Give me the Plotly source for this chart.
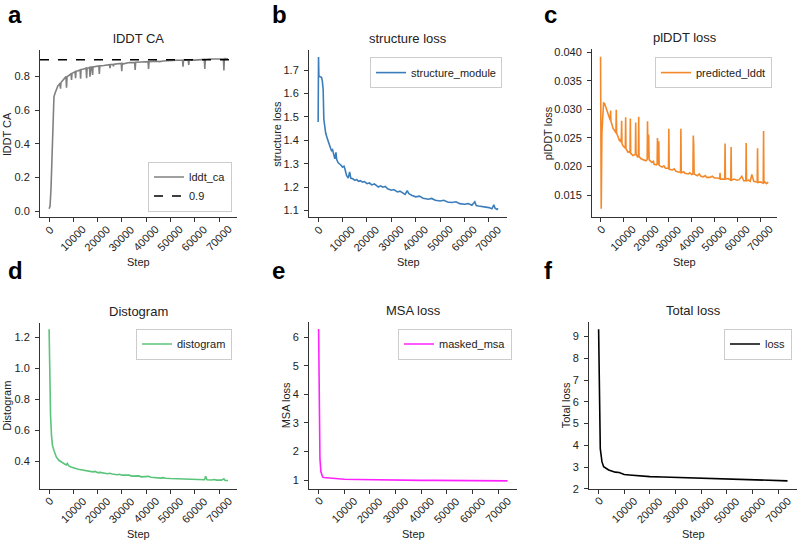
import plotly.graph_objects as go

# ---------------- DATA ----------------
X_TICKS = [0, 10000, 20000, 30000, 40000, 50000, 60000, 70000]
X_TICK_TEXT = ["0", "10000", "20000", "30000", "40000", "50000", "60000", "70000"]

lddt_steps = [0, 400, 800, 1100, 1400, 1700, 2000, 2400, 2800, 3200, 3600, 4000, 4450, 4690, 4900,
              5500, 6000, 6500, 6950, 7170, 7400, 8000, 8600, 9050, 9240, 9450, 10200, 10700, 10900,
              11100, 12000, 12500, 12780, 12970, 13160, 14200, 14800, 15250, 15450, 15650, 16400, 16650,
              16830, 17000, 17300, 17750, 17930, 18100, 19200, 20000, 20500, 20690, 20880, 22500, 24000,
              24900, 25100, 25300, 26300, 26500, 26700, 28500, 29730, 29930, 30130, 30600, 32000, 33000,
              34000, 35250, 35450, 35650, 38000, 40000, 40770, 40970, 41170, 44000, 45500, 47000, 48500,
              50000, 52500, 54970, 55170, 55370, 57320, 57520, 57720, 60000, 61000, 63940, 64140, 64340,
              66000, 67500, 69000, 70000, 71800, 72000, 72200, 73700]
lddt_vals = [0.015, 0.03, 0.14, 0.30, 0.50, 0.64, 0.68, 0.70, 0.72, 0.73, 0.745, 0.75, 0.762, 0.728, 0.765,
             0.775, 0.785, 0.79, 0.80, 0.734, 0.80, 0.805, 0.812, 0.818, 0.78, 0.82, 0.825, 0.83, 0.79,
             0.832, 0.835, 0.838, 0.84, 0.787, 0.842, 0.845, 0.848, 0.85, 0.79, 0.852, 0.853, 0.855,
             0.80, 0.856, 0.856, 0.857, 0.81, 0.858, 0.86, 0.862, 0.863, 0.816, 0.864, 0.866, 0.87,
             0.871, 0.85, 0.872, 0.873, 0.862, 0.874, 0.877, 0.879, 0.832, 0.879, 0.876, 0.881, 0.884,
             0.883, 0.884, 0.839, 0.885, 0.887, 0.888, 0.889, 0.845, 0.889, 0.891, 0.889, 0.893, 0.895,
             0.895, 0.897, 0.898, 0.859, 0.898, 0.899, 0.87, 0.899, 0.898, 0.900, 0.902, 0.845, 0.902,
             0.905, 0.904, 0.902, 0.905, 0.906, 0.836, 0.907, 0.906]
LDDT_REF = 0.9

struct_steps = [0, 150, 300, 800, 1370, 1700, 2055, 2329, 2740, 3100, 3425, 3800, 4110, 4500, 5000, 5480,
                5900, 6200, 6500, 6850, 7300, 7600, 8220, 8800, 9300, 10000, 10600, 10960, 11300, 11640,
                12330, 12900, 13400, 14200, 15070, 15800, 16500, 17300, 18200, 19000, 20000, 21000, 22000,
                23000, 24660, 25600, 26500, 27500, 28500, 30000, 31000, 32500, 33500, 34500, 35620, 36500,
                37200, 38500, 40000, 41500, 43000, 45200, 46500, 48000, 50000, 51500, 53000, 54800, 56500,
                58000, 60000, 61500, 63000, 64200, 64800, 65750, 67500, 69000, 70000, 71200, 72000, 72500,
                73300, 73700]
struct_vals = [1.478, 1.756, 1.675, 1.672, 1.669, 1.655, 1.616, 1.49, 1.447, 1.43, 1.419, 1.405, 1.391,
               1.385, 1.37, 1.356, 1.36, 1.345, 1.33, 1.321, 1.349, 1.318, 1.304, 1.30, 1.295, 1.286, 1.29,
               1.279, 1.262, 1.25, 1.239, 1.265, 1.238, 1.236, 1.229, 1.233, 1.225, 1.228, 1.222, 1.224,
               1.215, 1.218, 1.21, 1.214, 1.201, 1.206, 1.2, 1.203, 1.193, 1.187, 1.19, 1.18, 1.183, 1.175,
               1.169, 1.185, 1.172, 1.165, 1.159, 1.162, 1.153, 1.149, 1.152, 1.144, 1.141, 1.144, 1.137,
               1.135, 1.138, 1.13, 1.127, 1.13, 1.123, 1.138, 1.122, 1.12, 1.118, 1.114, 1.113, 1.108,
               1.125, 1.11, 1.105, 1.11]

plddt_steps = [0, 294, 587, 1000, 1322, 1762, 2100, 2496, 3000, 3500, 3965, 4250, 4405, 4560, 5100, 5433,
               6000, 6500, 6750, 6902, 7050, 7700, 8370, 8800, 9100, 9251, 9400, 9838, 10500, 10860, 11013,
               11160, 12041, 12600, 12920, 13069, 13220, 14244, 15000, 15270, 15419, 15570, 16300, 16590,
               16740, 16890, 17600, 18500, 19824, 20450, 20600, 20850, 21100, 21300, 22500, 23200, 23500,
               24523, 24810, 24963, 25120, 25400, 25551, 25700, 27000, 27800, 28500, 29500, 29800, 29956,
               30110, 31500, 32300, 33000, 34300, 35090, 35242, 35390, 36500, 37000, 38500, 39200, 39941,
               40520, 40675, 40850, 41050, 42500, 43300, 44000, 45081, 46000, 46500, 48000, 49000, 49927,
               51000, 52270, 52423, 52570, 53200, 54470, 54626, 54780, 56000, 56500, 57120, 57269, 57420,
               58500, 59912, 60800, 61968, 62800, 63720, 63877, 64030, 65000, 65639, 66373, 67200, 68300,
               68720, 68870, 69020, 70044, 71000, 71360, 71512, 71660, 72000, 72800, 73200, 73600]
plddt_vals = [0.0392, 0.0126, 0.0259, 0.0300, 0.0311, 0.0310, 0.0306, 0.0299, 0.0295, 0.0288, 0.0282,
              0.0281, 0.0298, 0.0279, 0.0272, 0.0267, 0.0264, 0.0260, 0.0259, 0.0299, 0.0258, 0.0252,
              0.0244, 0.0248, 0.0242, 0.0280, 0.0240, 0.0236, 0.0234, 0.0232, 0.0286, 0.0231, 0.0225,
              0.0226, 0.0224, 0.0284, 0.0223, 0.0219, 0.0220, 0.0221, 0.0277, 0.0222, 0.0216, 0.0218,
              0.0287, 0.0218, 0.0214, 0.0212, 0.0210, 0.0212, 0.0279, 0.0215, 0.0256, 0.0212, 0.0207,
              0.0209, 0.0204, 0.0203, 0.0204, 0.0250, 0.0206, 0.0203, 0.0244, 0.0202, 0.0199, 0.0201,
              0.0197, 0.0196, 0.0197, 0.0266, 0.0195, 0.0194, 0.0196, 0.0192, 0.0190, 0.0191, 0.0266,
              0.0189, 0.0191, 0.0188, 0.0187, 0.0189, 0.0186, 0.0187, 0.0254, 0.0240, 0.0187, 0.0184,
              0.0187, 0.0183, 0.0182, 0.0184, 0.0181, 0.0181, 0.0183, 0.0180, 0.0180, 0.0179, 0.0189,
              0.0178, 0.0178, 0.0178, 0.0240, 0.0178, 0.0179, 0.0177, 0.0176, 0.0234, 0.0176, 0.0178,
              0.0176, 0.0177, 0.0183, 0.0175, 0.0175, 0.0241, 0.0175, 0.0176, 0.0174, 0.0186, 0.0174,
              0.0173, 0.0173, 0.0232, 0.0172, 0.0173, 0.0172, 0.0171, 0.0262, 0.0171, 0.0173, 0.0170,
              0.0172, 0.0171]

disto_steps = [0, 200, 600, 1000, 1400, 2000, 3000, 4000, 5000, 6000, 7000, 7500, 8000, 9000, 10000, 11000,
               12000, 13500, 15000, 16500, 18000, 19000, 20000, 21000, 22000, 24000, 25000, 26000, 28000,
               29000, 30000, 32000, 33000, 34000, 36000, 37000, 38000, 40000, 41000, 42000, 44000, 46000,
               47000, 48000, 50000, 52000, 53000, 54000, 56000, 58000, 59000, 60000, 62000, 64000, 64500,
               65000, 67000, 68000, 69000, 71000, 72000, 72500, 73700]
disto_vals = [1.253, 0.90, 0.69, 0.563, 0.50, 0.468, 0.425, 0.405, 0.394, 0.385, 0.375, 0.385, 0.370, 0.362,
              0.355, 0.352, 0.347, 0.344, 0.338, 0.335, 0.330, 0.333, 0.325, 0.327, 0.323, 0.318, 0.321,
              0.316, 0.312, 0.315, 0.309, 0.307, 0.309, 0.303, 0.302, 0.304, 0.298, 0.298, 0.301, 0.295,
              0.292, 0.290, 0.293, 0.289, 0.287, 0.286, 0.289, 0.284, 0.283, 0.282, 0.285, 0.281, 0.280,
              0.279, 0.302, 0.279, 0.278, 0.281, 0.277, 0.277, 0.285, 0.275, 0.274]

msa_steps = [0, 260, 520, 900, 1560, 2000, 3000, 5000, 7000, 10000, 15000, 20000, 25000, 30000, 35000,
             40000, 45000, 50000, 55000, 60000, 65000, 70000, 73700]
msa_vals = [6.29, 3.24, 1.75, 1.29, 1.11, 1.09, 1.08, 1.06, 1.05, 1.03, 1.02, 1.01, 1.005, 1.0, 0.995,
            0.99, 0.99, 0.99, 0.985, 0.98, 0.978, 0.975, 0.972]

loss_steps = [0, 260, 650, 1300, 1960, 3900, 6500, 8000, 10000, 12000, 14300, 17000, 20000, 25000, 30000,
              35000, 40000, 45000, 50000, 55000, 60000, 65000, 70000, 73700]
loss_vals = [9.33, 5.35, 3.85, 3.25, 3.02, 2.87, 2.77, 2.75, 2.66, 2.64, 2.61, 2.59, 2.565, 2.55, 2.53,
             2.51, 2.49, 2.475, 2.46, 2.445, 2.43, 2.41, 2.39, 2.37]

Y_TICKS = {
    "a": [0.0, 0.2, 0.4, 0.6, 0.8],
    "b": [1.1, 1.2, 1.3, 1.4, 1.5, 1.6, 1.7],
    "c": [0.015, 0.020, 0.025, 0.030, 0.035, 0.040],
    "d": [0.4, 0.6, 0.8, 1.0, 1.2],
    "e": [1, 2, 3, 4, 5, 6],
    "f": [2, 3, 4, 5, 6, 7, 8, 9],
}
Y_TICK_TEXT = {
    "a": ["0.0", "0.2", "0.4", "0.6", "0.8"],
    "b": ["1.1", "1.2", "1.3", "1.4", "1.5", "1.6", "1.7"],
    "c": ["0.015", "0.020", "0.025", "0.030", "0.035", "0.040"],
    "d": ["0.4", "0.6", "0.8", "1.0", "1.2"],
    "e": ["1", "2", "3", "4", "5", "6"],
    "f": ["2", "3", "4", "5", "6", "7", "8", "9"],
}

# ---------------- LAYOUT ----------------
W, H = 800, 549
FONT = "Liberation Sans, Arial, sans-serif"
TXT = "#222222"

def px(p):
    return p / W

def py(p):
    return 1 - p / H

panels = [
    dict(k="a", x=(40, 237), y=(48, 218), yr=(-0.037, 0.957), title="lDDT CA", ylab="lDDT CA",
         yoff=33, steps=lddt_steps, vals=lddt_vals, name="lddt_ca", color="#808080",
         leg=dict(x=232, y=212, xa="right", ya="bottom"), letter=(6, 12)),
    dict(k="b", x=(309, 507), y=(48, 218), yr=(1.071, 1.785), title="structure loss", ylab="structure loss",
         yoff=32, steps=struct_steps, vals=struct_vals, name="structure_module", color="#3b7dbb",
         leg=dict(x=502, y=55, xa="right", ya="top"), letter=(270, 12)),
    dict(k="c", x=(592, 777), y=(47, 218), yr=(0.0111, 0.0405), title="plDDT loss", ylab="plDDT loss",
         yoff=44, steps=plddt_steps, vals=plddt_vals, name="predicted_lddt", color="#f4892a",
         leg=dict(x=772, y=55, xa="right", ya="top"), letter=(542, 12)),
    dict(k="d", x=(40, 237), y=(325, 494), yr=(0.22, 1.295), title="Distogram", ylab="Distogram",
         yoff=33, steps=disto_steps, vals=disto_vals, name="distogram", color="#5ac47a",
         leg=dict(x=232, y=331, xa="right", ya="top"), letter=(6, 272)),
    dict(k="e", x=(309, 517), y=(324, 494), yr=(0.69, 6.55), title="MSA loss", ylab="MSA loss",
         yoff=23, steps=msa_steps, vals=msa_vals, name="masked_msa", color="#ff22ff",
         leg=dict(x=512, y=331, xa="right", ya="top"), letter=(270, 272)),
    dict(k="f", x=(589, 797), y=(324, 494), yr=(2.0, 9.68), title="Total loss", ylab="Total loss",
         yoff=23, steps=loss_steps, vals=loss_vals, name="loss", color="#000000",
         leg=dict(x=792, y=331, xa="right", ya="top"), letter=(542, 272)),
]

fig = go.Figure()
annotations = []
layout = dict(
    width=W, height=H, margin=dict(l=0, r=0, t=0, b=0),
    paper_bgcolor="white", plot_bgcolor="white",
    font=dict(family=FONT, size=11, color=TXT),
    showlegend=True,
)

for i, p in enumerate(panels):
    n = "" if i == 0 else str(i + 1)
    xa, ya = "x" + n, "y" + n
    legname = "legend" if i == 0 else "legend" + str(i + 1)
    layout["xaxis" + n] = dict(
        domain=[px(p["x"][0]), px(p["x"][1])], anchor=ya, range=[-3750, 77400],
        showgrid=False, zeroline=False, showline=True, linecolor="#333333", linewidth=1,
        ticks="outside", ticklen=4, tickcolor="#333333", tickvals=X_TICKS, showticklabels=False,
    )
    layout["yaxis" + n] = dict(
        domain=[py(p["y"][1]), py(p["y"][0])], anchor=xa, range=list(p["yr"]),
        showgrid=False, zeroline=False, showline=True, linecolor="#333333", linewidth=1,
        ticks="outside", ticklen=4, tickcolor="#333333",
        tickvals=Y_TICKS[p["k"]], ticktext=Y_TICK_TEXT[p["k"]],
        tickfont=dict(size=11, color=TXT), ticklabelstandoff=3,
    )
    fig.add_trace(go.Scatter(
        x=p["steps"], y=p["vals"], mode="lines", name=p["name"],
        line=dict(color=p["color"], width=1.6), xaxis=xa, yaxis=ya, legend=legname,
    ))
    lg = p["leg"]
    layout[legname] = dict(
        x=px(lg["x"]), y=py(lg["y"]), xanchor=lg["xa"], yanchor=lg["ya"],
        bgcolor="rgba(255,255,255,0.85)", bordercolor="#cccccc", borderwidth=1,
        font=dict(size=11, color=TXT), itemwidth=30, tracegroupgap=0,
    )
    # x tick labels (rotated, centred like matplotlib)
    for tv, tt in zip(X_TICKS, X_TICK_TEXT):
        annotations.append(dict(
            x=tv, xref=xa, y=0, yref=ya + " domain", text=tt, showarrow=False,
            textangle=-45, xanchor="center", yanchor="top", yshift=-3,
            font=dict(size=11, color=TXT),
        ))
    # titles
    annotations.append(dict(x=0.5, xref=xa + " domain", y=1, yref=ya + " domain", text=p["title"],
                            showarrow=False, xanchor="center", yanchor="bottom", yshift=2,
                            font=dict(size=13, color=TXT)))
    annotations.append(dict(x=0.5, xref=xa + " domain", y=0, yref=ya + " domain", text="Step",
                            showarrow=False, xanchor="center", yanchor="top", yshift=-37,
                            font=dict(size=11, color=TXT)))
    annotations.append(dict(x=0, xref=xa + " domain", y=0.5, yref=ya + " domain", text=p["ylab"],
                            showarrow=False, xanchor="center", yanchor="middle", xshift=-p["yoff"],
                            textangle=-90, font=dict(size=11, color=TXT)))
    annotations.append(dict(x=px(p["letter"][0]), xref="paper", y=py(p["letter"][1]), yref="paper",
                            text=p["k"], showarrow=False, xanchor="left", yanchor="middle",
                            font=dict(size=24, color="#000000", family=FONT, weight="bold")))

fig.update_layout(**layout)
fig.update_layout(annotations=annotations)

# reference line at 0.9 in panel a
fig.add_shape(type="line", xref="x domain", yref="y", x0=0, x1=1, y0=LDDT_REF, y1=LDDT_REF,
              line=dict(color="#000000", width=1.6, dash="dash"), showlegend=True,
              name=str(LDDT_REF), legend="legend")

fig.write_html("out.html", config={"displayModeBar": False},
               post_script="document.body.style.margin='0px';")
